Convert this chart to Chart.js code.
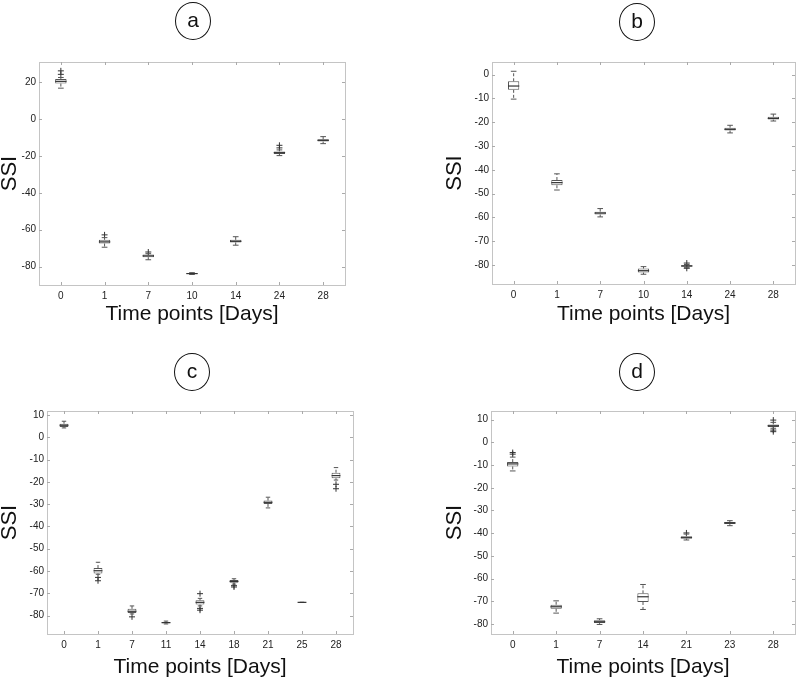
<!DOCTYPE html>
<html>
<head>
<meta charset="utf-8">
<script src="https://cdn.jsdelivr.net/npm/chart.js@4/dist/chart.umd.min.js"></script>
<style>
  body { margin: 0; background: #fff; font-family: "Liberation Sans", Arial, sans-serif; }
  .panel { position: absolute; }
  .tag {
    position: absolute; width: 34px; height: 36px; margin: -19px 0 0 -18px;
    border: 1.5px solid #111; border-radius: 50%;
    font-size: 21px; line-height: 33px; text-align: center; color: #111;
  }
</style>
</head>
<body>

<div class="panel" style="left:0;top:0;width:400px;height:330px"><canvas id="chartA"></canvas></div>
<div class="panel" style="left:400px;top:0;width:400px;height:330px"><canvas id="chartB"></canvas></div>
<div class="panel" style="left:0;top:330px;width:400px;height:349px"><canvas id="chartC"></canvas></div>
<div class="panel" style="left:400px;top:330px;width:400px;height:349px"><canvas id="chartD"></canvas></div>

<div class="tag" style="left:193px;top:21px">a</div>
<div class="tag" style="left:637px;top:22px">b</div>
<div class="tag" style="left:192px;top:372px">c</div>
<div class="tag" style="left:637px;top:372px">d</div>

<script>
// panel a
const aDays = ["0", "1", "7", "10", "14", "24", "28"];
const aMin = [16.8, -69.5, -76.3, -84.3, -68.4, -19.8, -13.3];
const aQ1 = [19.3, -67.5, -74.9, -84.0, -66.9, -18.9, -12.2];
const aMed = [20.5, -66.6, -74.2, -83.8, -66.3, -18.2, -11.5];
const aQ3 = [21.8, -65.5, -73.4, -83.6, -65.5, -17.5, -10.9];
const aMax = [22.6, -64.3, -73.0, -83.3, -63.8, -16.7, -9.5];
const aOut = [["0", 24.3], ["0", 26.2], ["1", -62.8], ["7", -72.1], ["24", -15.6], ["24", -14.2]];
const aTicks = [-80, -60, -40, -20, 0, 20];
const aRange = [-90, 31];

// panel b
const bDays = ["0", "1", "7", "10", "14", "24", "28"];
const bMin = [-10.3, -48.5, -59.8, -83.9, -81.0, -24.5, -19.5];
const bQ1 = [-6.4, -46.5, -58.8, -83.2, -80.7, -23.5, -18.9];
const bMed = [-4.8, -45.4, -58.2, -82.4, -80.4, -23.0, -18.4];
const bQ3 = [-2.8, -44.3, -57.6, -81.5, -80.1, -22.3, -17.7];
const bMax = [1.4, -41.7, -56.3, -80.7, -79.8, -21.3, -16.6];
const bOut = [["14", -79.2], ["14", -81.4]];
const bTicks = [-80, -70, -60, -50, -40, -30, -20, -10, 0];
const bRange = [-88, 5.3];

// panel c
const cDays = ["0", "1", "7", "11", "14", "18", "21", "25", "28"];
const cMin = [4.2, -61.5, -79.3, -83.8, -75.7, -65.9, -31.7, -74.1, -19.2];
const cQ1 = [4.6, -61.1, -78.9, -83.5, -75.1, -65.3, -29.9, -74.1, -18.4];
const cMed = [5.4, -59.9, -78.1, -83.2, -74.1, -64.7, -29.2, -74.1, -17.2];
const cQ3 = [6.1, -58.7, -77.0, -82.9, -73.2, -64.1, -28.4, -74.1, -15.9];
const cMax = [7.2, -56.1, -75.7, -82.5, -72.3, -63.5, -26.9, -74.1, -13.6];
const cOut = [["1", -62.9], ["1", -64.4], ["7", -80.6], ["14", -70.2], ["14", -76.8], ["14", -77.6],
              ["18", -66.6], ["18", -67.2], ["28", -21.1], ["28", -23.1]];
const cTicks = [-80, -70, -60, -50, -40, -30, -20, -10, 0, 10];
const cRange = [-88.3, 11.8];

// panel d
const dDays = ["0", "1", "7", "14", "21", "23", "28"];
const dMin = [-12.6, -75.2, -80.2, -73.6, -43.0, -36.7, 6.2];
const dQ1 = [-10.6, -73.3, -79.6, -70.3, -42.4, -36.0, 6.8];
const dMed = [-9.5, -72.4, -79.0, -68.0, -42.0, -35.5, 7.3];
const dQ3 = [-8.7, -71.5, -78.3, -66.5, -41.4, -35.1, 7.9];
const dMax = [-6.5, -69.8, -77.7, -62.6, -40.4, -34.5, 8.8];
const dOut = [["0", -5.2], ["0", -4.5], ["21", -39.9], ["28", 9.8], ["28", 5.4], ["28", 4.7]];
const dTicks = [-80, -70, -60, -50, -40, -30, -20, -10, 0, 10];
const dRange = [-84.4, 13.8];

// whiskers, caps, medians, frame and inward ticks
const boxExtras = {
    id: "boxExtras",
    afterDatasetsDraw(chart, args, opts) {
        const { ctx, chartArea: ca, scales: { x, y } } = chart;
        const bars = chart.getDatasetMeta(0).data;
        ctx.save();
        opts.med.forEach((m, i) => {
            const cx = x.getPixelForValue(i);
            const hw = bars[i].width / 2;
            const yMin = y.getPixelForValue(opts.min[i]);
            const yMax = y.getPixelForValue(opts.max[i]);
            const yQ1 = y.getPixelForValue(opts.q1[i]);
            const yQ3 = y.getPixelForValue(opts.q3[i]);
            ctx.strokeStyle = "#555";
            ctx.lineWidth = 1;
            ctx.setLineDash([3, 2]);
            ctx.beginPath();
            ctx.moveTo(cx, yQ3); ctx.lineTo(cx, yMax);
            ctx.moveTo(cx, yQ1); ctx.lineTo(cx, yMin);
            ctx.stroke();
            ctx.setLineDash([]);
            ctx.beginPath();
            ctx.moveTo(cx - hw / 2, yMax); ctx.lineTo(cx + hw / 2, yMax);
            ctx.moveTo(cx - hw / 2, yMin); ctx.lineTo(cx + hw / 2, yMin);
            ctx.stroke();
            const yMed = y.getPixelForValue(m);
            ctx.strokeStyle = "#333";
            ctx.lineWidth = 1.2;
            ctx.beginPath();
            ctx.moveTo(cx - hw, yMed); ctx.lineTo(cx + hw, yMed);
            ctx.stroke();
        });

        // frame
        ctx.strokeStyle = "#c4c4c4";
        ctx.lineWidth = 1;
        ctx.strokeRect(Math.round(ca.left) + 0.5, Math.round(ca.top) + 0.5,
            Math.round(ca.right - ca.left), Math.round(ca.bottom - ca.top));
        // ticks pointing inward
        ctx.strokeStyle = "#aaa";
        ctx.beginPath();
        y.ticks.forEach(t => {
            const py = Math.round(y.getPixelForValue(t.value)) + 0.5;
            ctx.moveTo(ca.left, py); ctx.lineTo(ca.left + 3, py);
            ctx.moveTo(ca.right, py); ctx.lineTo(ca.right - 3, py);
        });
        x.ticks.forEach((t, i) => {
            const px = Math.round(x.getPixelForValue(i)) + 0.5;
            ctx.moveTo(px, ca.top); ctx.lineTo(px, ca.top + 3);
            ctx.moveTo(px, ca.bottom); ctx.lineTo(px, ca.bottom - 3);
        });
        ctx.stroke();
        ctx.restore();
    },
};

function makePanel(id, days, mn, q1, med, q3, mx, out, ticks, range, lay) {
    new Chart(document.getElementById(id), {
        type: "bar",
        data: {
            labels: days,
            datasets: [
                {
                    data: q1.map((v, i) => [v, q3[i]]),
                    backgroundColor: "#fff",
                    borderColor: "#555",
                    borderWidth: 1,
                    borderSkipped: false,
                    barPercentage: 0.26,
                    categoryPercentage: 1,
                },
                {
                    type: "scatter",
                    data: out.map(o => ({ x: o[0], y: o[1] })),
                    pointStyle: "cross",
                    radius: 3,
                    borderColor: "#333",
                    borderWidth: 1,
                },
            ],
        },
        options: {
            responsive: true,
            maintainAspectRatio: false,
            animation: false,
            layout: { padding: lay.pad },
            plugins: {
                legend: { display: false },
                tooltip: { enabled: false },
                boxExtras: { min: mn, q1: q1, med: med, q3: q3, max: mx },
            },
            scales: {
                x: {
                    type: "category",
                    offset: true,
                    grid: { display: false, drawTicks: false },
                    border: { display: false },
                    ticks: { color: "#222", padding: 5, font: { family: "Liberation Sans", size: 10 } },
                    title: {
                        display: true,
                        text: "Time points [Days]",
                        color: "#111",
                        padding: 0,
                        font: { family: "Liberation Sans", size: 21, lineHeight: 1 },
                    },
                    afterFit: s => { s.height = lay.xh; },
                },
                y: {
                    min: range[0],
                    max: range[1],
                    grid: { display: false, drawTicks: false },
                    border: { display: false },
                    ticks: { color: "#222", padding: 3, font: { family: "Liberation Sans", size: 10 } },
                    afterBuildTicks: s => { s.ticks = ticks.map(v => ({ value: v })); },
                    title: {
                        display: true,
                        text: "SSI",
                        color: "#111",
                        padding: 0,
                        font: { family: "Liberation Sans", size: 22, lineHeight: 0.92 },
                    },
                    afterFit: s => { s.width = lay.yw; },
                },
            },
        },
        plugins: [boxExtras],
    });
}

makePanel("chartA", aDays, aMin, aQ1, aMed, aQ3, aMax, aOut, aTicks, aRange,
    { pad: { left: 0, right: 55, top: 62, bottom: 5 }, yw: 39, xh: 40 });
makePanel("chartB", bDays, bMin, bQ1, bMed, bQ3, bMax, bOut, bTicks, bRange,
    { pad: { left: 45, right: 2, top: 62, bottom: 5 }, yw: 47, xh: 41 });
makePanel("chartC", cDays, cMin, cQ1, cMed, cQ3, cMax, cOut, cTicks, cRange,
    { pad: { left: 0, right: 47, top: 81, bottom: 1 }, yw: 47, xh: 44 });
makePanel("chartD", dDays, dMin, dQ1, dMed, dQ3, dMax, dOut, dTicks, dRange,
    { pad: { left: 45, right: 2, top: 81, bottom: 1 }, yw: 46, xh: 44 });
</script>
</body>
</html>
